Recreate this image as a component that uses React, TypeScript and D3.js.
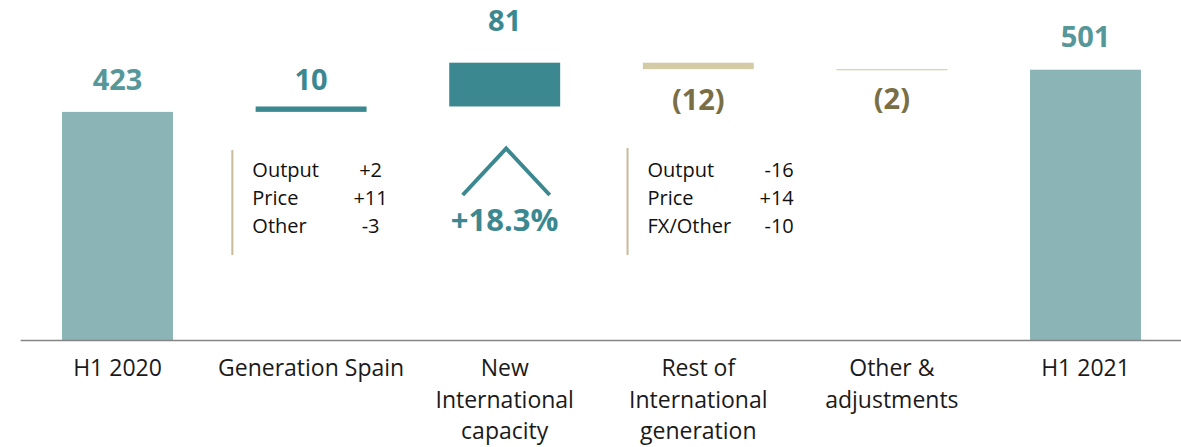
import * as React from 'react';
import * as d3 from 'd3';

// waterfall data
const categories: string[][] = [
  ['H1 2020'],
  ['Generation Spain'],
  ['New', 'International', 'capacity'],
  ['Rest of', 'International', 'generation'],
  ['Other &', 'adjustments'],
  ['H1 2021'],
];
const values: number[] = [423, 10, 81, -12, -2, 501];
const isTotal: boolean[] = [true, false, false, false, false, true];
const valueLabels: string[] = ['423', '10', '81', '(12)', '(2)', '501'];

// breakdown boxes
const spainItems: string[] = ['Output', 'Price', 'Other'];
const spainValues: string[] = ['+2', '+11', '-3'];
const intlItems: string[] = ['Output', 'Price', 'FX/Other'];
const intlValues: string[] = ['-16', '+14', '-10'];
const growthLabel = '+18.3%';

const width = 1181;
const height = 447;
const baseY = 340.5;
const font = "'Open Sans', sans-serif";

// gap between bar edge and its value label
const labelGap = [22, 16, 32, 41, 39, 23];

const App = () => {
  const x = d3
    .scaleBand<number>()
    .domain(d3.range(categories.length))
    .range([20.7, 1182.3])
    .paddingInner(0.427)
    .paddingOuter(0.2135);

  const y = d3.scaleLinear().domain([0, 630]).range([baseY, 0]);

  // running totals for the floating bars
  let running = 0;
  const bars = values.map((v, i) => {
    let start: number;
    let end: number;
    if (isTotal[i]) {
      start = 0;
      end = v;
    } else {
      start = running;
      end = running + v;
    }
    running = end;
    return { i, start, end, v };
  });

  const fillFor = (i: number, v: number) => {
    if (isTotal[i]) return '#8AB4B5';
    return v >= 0 ? '#3C8891' : '#D3CAA6';
  };
  const labelColor = (i: number, v: number) => {
    if (isTotal[i]) return '#56979A';
    return v >= 0 ? '#3C8891' : '#7A6E45';
  };

  const bw = x.bandwidth();
  const spainX = x(1) as number;
  const intlX = x(3) as number;
  const newX = (x(2) as number) + bw / 2;
  const rowY = [176.7, 204.7, 232.5];

  return (
    <svg
      width={width}
      height={height}
      style={{ position: 'absolute', left: 0, top: 0, background: '#fff' }}
      fontFamily={font}
    >
      {bars.map((b) => {
        const top = y(Math.max(b.start, b.end));
        const bottom = y(Math.min(b.start, b.end));
        const cx = (x(b.i) as number) + bw / 2;
        const ty = b.v >= 0 ? top - labelGap[b.i] : bottom + labelGap[b.i];
        return (
          <g key={b.i}>
            <rect
              x={x(b.i)}
              y={top}
              width={bw}
              height={Math.max(1, bottom - top)}
              fill={fillFor(b.i, b.v)}
            />
            <text
              x={cx}
              y={ty}
              textAnchor="middle"
              fontSize={29}
              fontWeight="bold"
              fill={labelColor(b.i, b.v)}
            >
              {valueLabels[b.i]}
            </text>
          </g>
        );
      })}

      {/* baseline */}
      <line x1={20.7} x2={width} y1={baseY} y2={baseY} stroke="#858585" strokeWidth={1.3} />

      {/* category labels */}
      {categories.map((lines, i) => (
        <text
          key={i}
          x={(x(i) as number) + bw / 2}
          y={376}
          textAnchor="middle"
          fontSize={23}
          fill="#1a1a1a"
        >
          {lines.map((l, j) => (
            <tspan key={j} x={(x(i) as number) + bw / 2} dy={j === 0 ? 0 : 31.5}>
              {l}
            </tspan>
          ))}
        </text>
      ))}

      {/* Generation Spain breakdown */}
      <line x1={spainX - 23.3} x2={spainX - 23.3} y1={150} y2={255} stroke="#C9BA9B" strokeWidth={2} />
      {spainItems.map((t, k) => (
        <g key={k}>
          <text x={spainX - 3.3} y={rowY[k]} fontSize={20} fill="#111">
            {t}
          </text>
          <text x={spainX + bw + 4} y={rowY[k]} fontSize={20} fill="#111" textAnchor="middle">
            {spainValues[k]}
          </text>
        </g>
      ))}

      {/* New international capacity growth */}
      <polyline
        points={`${newX - 42},195 ${newX + 1.5},148.5 ${newX + 45},195`}
        fill="none"
        stroke="#3C8891"
        strokeWidth={4}
      />
      <text x={newX} y={230.7} textAnchor="middle" fontSize={31} fontWeight="bold" fill="#3C8891">
        {growthLabel}
      </text>

      {/* Rest of international breakdown */}
      <line x1={intlX - 15.3} x2={intlX - 15.3} y1={148} y2={255} stroke="#C9BA9B" strokeWidth={2} />
      {intlItems.map((t, k) => (
        <g key={k}>
          <text x={intlX + 4.7} y={rowY[k]} fontSize={20} fill="#111">
            {t}
          </text>
          <text x={intlX + bw + 40} y={rowY[k]} fontSize={20} fill="#111" textAnchor="end">
            {intlValues[k]}
          </text>
        </g>
      ))}
    </svg>
  );
};

export default App;
